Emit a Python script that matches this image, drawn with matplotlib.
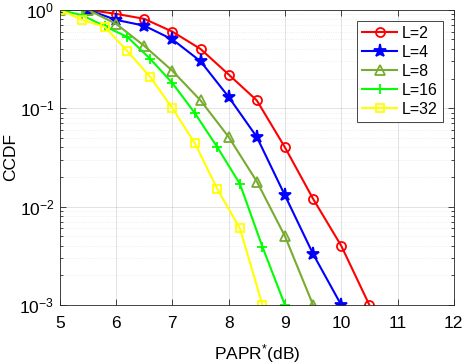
import matplotlib
matplotlib.use("Agg")
import matplotlib.pyplot as plt
from matplotlib.ticker import LogLocator, NullFormatter

plt.rcParams['font.family'] = ['Liberation Sans', 'DejaVu Sans']
plt.rcParams['mathtext.fontset'] = 'custom'
plt.rcParams['mathtext.rm'] = 'Liberation Sans'
plt.rcParams['mathtext.it'] = 'Liberation Sans:italic'

labels = ["L=2", "L=4", "L=8", "L=16", "L=32"]

x_L2 = [5.0, 5.5, 6.0, 6.5, 7.0, 7.5, 8.0, 8.5, 9.0, 9.5, 10.0, 10.5]
y_L2 = [1.0, 1.0, 0.91, 0.81, 0.60, 0.40, 0.22, 0.12, 0.040, 0.012, 0.004, 0.001]

x_L4 = [5.0, 5.5, 6.0, 6.5, 7.0, 7.5, 8.0, 8.5, 9.0, 9.5, 10.0]
y_L4 = [1.0, 1.0, 0.79, 0.69, 0.50, 0.30, 0.13, 0.051, 0.013, 0.0033, 0.001]

x_L8 = [5.0, 5.5, 6.0, 6.5, 7.0, 7.5, 8.0, 8.5, 9.0, 9.5]
y_L8 = [1.0, 1.0, 0.72, 0.43, 0.24, 0.12, 0.051, 0.018, 0.005, 0.001]

x_L16 = [5.0, 5.4, 5.8, 6.2, 6.6, 7.0, 7.4, 7.8, 8.2, 8.6, 9.0]
y_L16 = [1.0, 0.88, 0.68, 0.53, 0.32, 0.18, 0.089, 0.040, 0.017, 0.0039, 0.001]

x_L32 = [5.0, 5.4, 5.8, 6.2, 6.6, 7.0, 7.4, 7.8, 8.2, 8.6]
y_L32 = [1.0, 0.79, 0.67, 0.38, 0.21, 0.10, 0.044, 0.015, 0.006, 0.001]

ytick_vals = [1e-3, 1e-2, 1e-1, 1]
ytick_labels = [r'$10^{-3}$', r'$10^{-2}$', r'$10^{-1}$', r'$10^{0}$']

xs = [x_L2, x_L4, x_L8, x_L16, x_L32]
ys = [y_L2, y_L4, y_L8, y_L16, y_L32]
colors = ['#ff0000', '#0000ff', '#77ac30', '#00ff00', '#ffff00']
markers = ['o', '*', '^', '+', 's']
msizes = [6.5, 9.5, 6.5, 7.5, 5.5]
faces = ['none', '#0000ff', 'none', 'none', 'none']

fig = plt.figure(figsize=(4.64, 3.64), dpi=100)
ax = fig.add_axes([0.129, 0.162, 0.849, 0.811])

for x, y, c, m, ms, fc, lab in zip(xs, ys, colors, markers, msizes, faces, labels):
    ax.plot(x, y, color=c, marker=m, markersize=ms, markerfacecolor=fc,
            markeredgecolor=c, markeredgewidth=1.3, linewidth=1.5, label=lab)

ax.set_yscale('log')
ax.set_xlim(5, 12)
ax.set_ylim(1e-3, 1)
ax.set_xticks([5, 6, 7, 8, 9, 10, 11, 12])
ax.set_yticks(ytick_vals)
ax.set_yticklabels(ytick_labels)
ax.yaxis.set_minor_locator(LogLocator(base=10, subs=range(2, 10)))
ax.yaxis.set_minor_formatter(NullFormatter())

ax.grid(True, which='major', color='#262626', alpha=0.15, linewidth=0.6)
ax.grid(True, which='minor', axis='y', color='#262626', alpha=0.12, linewidth=0.5, linestyle=':')

for s in ax.spines.values():
    s.set_color('#262626')
    s.set_linewidth(0.6)
ax.tick_params(which='both', direction='in', colors='#262626', labelcolor='black',
               labelsize=12.5, top=True, right=True, width=0.6)
ax.tick_params(which='major', length=4)
ax.tick_params(which='minor', length=2)
ax.tick_params(axis='x', which='major', pad=8)
ax.tick_params(axis='y', which='major', pad=4)

ax.set_xlabel(r'PAPR$^{*}$(dB)', fontsize=12.5, labelpad=8)
ax.set_ylabel('CCDF', fontsize=12.5)
ax.yaxis.set_label_coords(-0.105, 0.5)

leg = ax.legend(loc='upper right', fontsize=11.5, fancybox=False, framealpha=1,
                edgecolor='#262626', handlelength=2.2, borderaxespad=0.7,
                labelspacing=0.25, handletextpad=0.3, borderpad=0.3)
leg.get_frame().set_linewidth(0.6)

fig.savefig('out.png', dpi=100)
